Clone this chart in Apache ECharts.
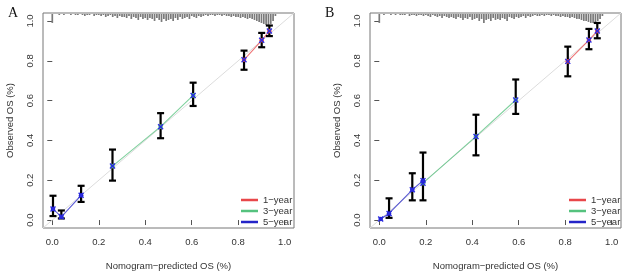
<!DOCTYPE html>
<html>
<head>
<meta charset="utf-8">
<script src="https://cdn.jsdelivr.net/npm/echarts@6/dist/echarts.min.js"></script>
<style>
  html, body { margin: 0; padding: 0; background: #fff; }
  #chart { width: 625px; height: 276px; }
</style>
</head>
<body>
<div id="chart"></div>
<script>
// axis ticks (both panels)
const xTicks = [0, 0.2, 0.4, 0.6, 0.8, 1.0];
const yTicks = [0, 0.2, 0.4, 0.6, 0.8, 1.0];
const legendNames = ['1\u2212year', '3\u2212year', '5\u2212year'];

// panel A: predicted vs observed, with CI
const a1Pred = [0.825, 0.901, 0.934];
const a1Obs  = [0.805, 0.903, 0.949];
const a1Low  = [0.755, 0.868, 0.924];
const a1High = [0.851, 0.940, 0.977];
const a3Pred = [0.259, 0.466, 0.606];
const a3Obs  = [0.271, 0.469, 0.626];
const a3Low  = [0.198, 0.411, 0.573];
const a3High = [0.354, 0.537, 0.690];
const a5Pred = [0.003, 0.039, 0.124];
const a5Obs  = [0.056, 0.016, 0.124];
const a5Low  = [0.020, 0.008, 0.091];
const a5High = [0.122, 0.048, 0.172];

// panel B
const b1Pred = [0.811, 0.902, 0.938];
const b1Obs  = [0.797, 0.904, 0.949];
const b1Low  = [0.722, 0.858, 0.913];
const b1High = [0.871, 0.960, 0.990];
const b3Pred = [0.188, 0.416, 0.587];
const b3Obs  = [0.185, 0.420, 0.603];
const b3Low  = [0.099, 0.325, 0.533];
const b3High = [0.339, 0.529, 0.706];
const b5Pred = [0.006, 0.042, 0.142, 0.188];
const b5Obs  = [0.005, 0.033, 0.152, 0.198];
const b5Low  = [null, 0.011, 0.099, null];
const b5High = [null, 0.109, 0.235, null];

// distribution of predictions (spikes hanging from the top), bins of 0.01 from 0.00
const aSpikes = [10,
  1,1,2,1,2,1,1,2,1,2,
  2,1,2,3,2,2,1,3,2,2,
  3,2,4,3,2,4,3,5,3,4,
  4,5,3,6,4,5,7,4,6,5,
  7,5,6,8,5,7,9,6,8,7,
  6,8,5,7,4,6,5,4,6,3,
  4,5,3,4,3,2,3,2,2,3,
  2,2,3,2,3,3,4,3,4,4,
  5,4,5,6,5,6,7,8,9,10,
  11,12,12,11,8,3];
const bSpikes = [10,
  1,2,1,1,2,1,2,1,2,2,
  2,1,3,2,2,3,2,2,3,2,
  3,4,2,3,4,3,5,3,4,5,
  4,5,6,4,5,7,5,6,4,7,
  6,5,8,6,10,7,6,8,5,7,
  6,7,5,6,8,4,5,6,4,5,
  4,3,5,3,4,3,2,3,3,2,
  3,2,2,3,2,3,3,4,3,4,
  4,5,4,5,6,6,7,8,8,9,
  10,10,9,8,6,3];

const colors = ['#e8474a', '#55c27e', '#2424c8'];
const AX_MIN = -0.04, AX_MAX = 1.04;
const font = 'Liberation Sans, Arial, sans-serif';

const chart = echarts.init(document.getElementById('chart'), null, { renderer: 'canvas' });

function pairs(xs, ys) { return xs.map((x, i) => [x, ys[i]]); }

function spikeSeries(idx, spikes) {
  return {
    type: 'custom', xAxisIndex: idx, yAxisIndex: idx, silent: true, z: 1,
    data: spikes.map((h, i) => [i / 100, h]),
    renderItem: (params, api) => {
      const x = api.value(0), h = api.value(1);
      const p1 = api.coord([x, AX_MAX]);
      const p2 = api.coord([x, AX_MAX - h * 0.005]);
      return { type: 'line', shape: { x1: p1[0], y1: p1[1] + 1, x2: p2[0], y2: p2[1] },
               style: { stroke: '#7a7a7a', lineWidth: 1.7 } };
    }
  };
}

function errSeries(idx, xs, lows, highs) {
  const data = [];
  xs.forEach((x, i) => { if (lows[i] != null) data.push([x, lows[i], highs[i]]); });
  return {
    type: 'custom', xAxisIndex: idx, yAxisIndex: idx, silent: true, z: 3,
    data: data,
    renderItem: (params, api) => {
      const lo = api.coord([api.value(0), api.value(1)]);
      const hi = api.coord([api.value(0), api.value(2)]);
      const st = { stroke: '#000', lineWidth: 2.2 };
      return { type: 'group', children: [
        { type: 'line', shape: { x1: lo[0], y1: lo[1], x2: hi[0], y2: hi[1] }, style: st },
        { type: 'line', shape: { x1: lo[0] - 3.5, y1: lo[1], x2: lo[0] + 3.5, y2: lo[1] }, style: st },
        { type: 'line', shape: { x1: hi[0] - 3.5, y1: hi[1], x2: hi[0] + 3.5, y2: hi[1] }, style: st }
      ]};
    }
  };
}

function pointSeries(idx, xs, ys, color) {
  return {
    type: 'custom', xAxisIndex: idx, yAxisIndex: idx, silent: true, z: 4,
    data: pairs(xs, ys),
    renderItem: (params, api) => {
      const c = api.coord([api.value(0), api.value(1)]);
      const st = { stroke: '#2a2ae0', lineWidth: 1.4 };
      return { type: 'group', children: [
        { type: 'circle', shape: { cx: c[0], cy: c[1], r: 2.3 }, style: { fill: color } },
        { type: 'line', shape: { x1: c[0] - 2.5, y1: c[1] - 2.5, x2: c[0] + 2.5, y2: c[1] + 2.5 }, style: st },
        { type: 'line', shape: { x1: c[0] - 2.5, y1: c[1] + 2.5, x2: c[0] + 2.5, y2: c[1] - 2.5 }, style: st }
      ]};
    }
  };
}

function lineSeries(idx, name, xs, ys, color) {
  return {
    type: 'line', name: name, xAxisIndex: idx, yAxisIndex: idx, z: 2,
    data: pairs(xs, ys), symbol: 'none', silent: true,
    lineStyle: { color: color, width: 1.1, opacity: 0.75 }, itemStyle: { color: color }
  };
}

function panelSeries(idx, p1, o1, l1, h1, p3, o3, l3, h3, p5, o5, l5, h5, spikes) {
  return [
    { type: 'line', xAxisIndex: idx, yAxisIndex: idx, data: [[AX_MIN, AX_MIN], [AX_MAX, AX_MAX]],
      symbol: 'none', silent: true, z: 1, lineStyle: { color: '#dcdcdc', width: 1 } },
    spikeSeries(idx, spikes),
    lineSeries(idx, legendNames[0], p1, o1, colors[0]),
    lineSeries(idx, legendNames[1], p3, o3, colors[1]),
    lineSeries(idx, legendNames[2], p5, o5, colors[2]),
    errSeries(idx, p1, l1, h1), errSeries(idx, p3, l3, h3), errSeries(idx, p5, l5, h5),
    pointSeries(idx, p1, o1, colors[0]), pointSeries(idx, p3, o3, colors[1]), pointSeries(idx, p5, o5, colors[2])
  ];
}

function xAxis(idx) {
  return {
    type: 'value', gridIndex: idx, min: AX_MIN, max: AX_MAX,
    name: 'Nomogram\u2212predicted OS (%)', nameLocation: 'middle', nameGap: 33,
    nameTextStyle: { fontFamily: font, fontSize: 9.5, color: '#333' },
    axisLine: { show: false }, splitLine: { show: false },
    axisTick: { show: true, customValues: xTicks, length: 5, lineStyle: { color: '#555' } },
    axisLabel: { customValues: xTicks, formatter: v => v.toFixed(1), margin: 9,
                 fontFamily: font, fontSize: 9.5, color: '#333' }
  };
}
function yAxis(idx) {
  return {
    type: 'value', gridIndex: idx, min: AX_MIN, max: AX_MAX,
    name: 'Observed OS (%)', nameLocation: 'middle', nameGap: 28, nameRotate: 90,
    nameTextStyle: { fontFamily: font, fontSize: 9.5, color: '#333' },
    axisLine: { show: false }, splitLine: { show: false },
    axisTick: { show: true, customValues: yTicks, length: 5, lineStyle: { color: '#555' } },
    axisLabel: { customValues: yTicks, formatter: v => v.toFixed(1), rotate: 90, margin: 8,
                 fontFamily: font, fontSize: 9.5, color: '#333' }
  };
}
function legend(left) {
  return {
    data: legendNames, orient: 'vertical', left: left, top: 190, itemGap: 1,
    itemWidth: 17, itemHeight: 2.5, icon: 'rect', selectedMode: false,
    textStyle: { fontFamily: font, fontSize: 9.5, color: '#333', height: 10, lineHeight: 10 }
  };
}

const option = {
  animation: false,
  backgroundColor: '#fff',
  title: [
    { text: 'A', left: 3, top: 1, textStyle: { fontFamily: 'Liberation Serif, serif', fontSize: 14, fontWeight: 'normal', color: '#111' } },
    { text: 'B', left: 320, top: 1, textStyle: { fontFamily: 'Liberation Serif, serif', fontSize: 14, fontWeight: 'normal', color: '#111' } }
  ],
  grid: [
    { left: 43, top: 13, width: 251, height: 217, show: true, borderColor: '#777', borderWidth: 1, backgroundColor: 'transparent' },
    { left: 370, top: 13, width: 251, height: 217, show: true, borderColor: '#777', borderWidth: 1, backgroundColor: 'transparent' }
  ],
  xAxis: [xAxis(0), xAxis(1)],
  yAxis: [yAxis(0), yAxis(1)],
  legend: [legend(236), legend(564)],
  series: [].concat(
    panelSeries(0, a1Pred, a1Obs, a1Low, a1High, a3Pred, a3Obs, a3Low, a3High, a5Pred, a5Obs, a5Low, a5High, aSpikes),
    panelSeries(1, b1Pred, b1Obs, b1Low, b1High, b3Pred, b3Obs, b3Low, b3High, b5Pred, b5Obs, b5Low, b5High, bSpikes)
  )
};

chart.setOption(option);
</script>
</body>
</html>
